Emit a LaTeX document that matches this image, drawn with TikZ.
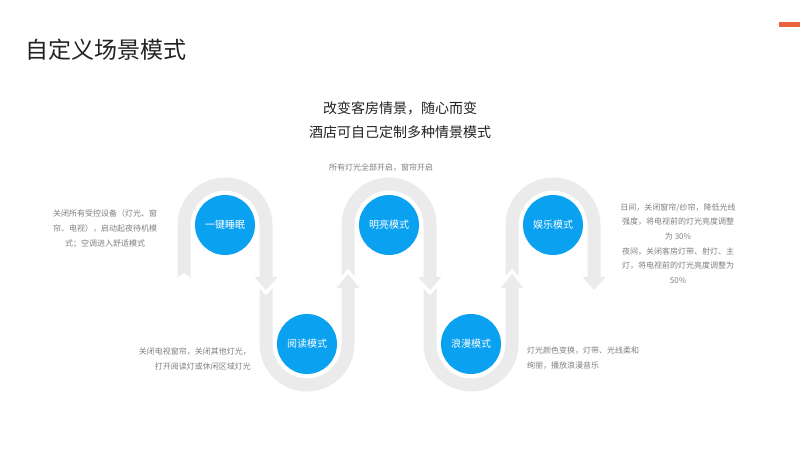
\documentclass[tikz,border=0pt]{standalone}
\usepackage{fontspec}
\setmainfont{Noto Sans CJK SC}
\definecolor{bandgray}{HTML}{EBEBEB}
\definecolor{circblue}{HTML}{0AA1F0}
\definecolor{txtgray}{HTML}{808080}
\definecolor{darktxt}{HTML}{222222}
\definecolor{markred}{HTML}{E9643E}
\begin{document}
\begin{tikzpicture}[x=1pt,y=1pt,
  band/.style={draw=bandgray,line width=13pt,line cap=butt,line join=round},
  headtri/.style={fill=bandgray,draw=none},
  gapline/.style={draw=white,line width=3.5pt,line join=miter},
  modecircle/.style={circle,fill=circblue,minimum size=60pt,inner sep=0pt,text=white,font=\fontsize{10}{12}\selectfont},
  smalltxt/.style={text=txtgray,font=\fontsize{8}{15}\selectfont,inner sep=0pt}
]
\useasboundingbox (0,0) rectangle (800,450);
\fill[white] (0,0) rectangle (800,450);

% snake band
\draw[band] (184,172) -- (184,225) arc[start angle=180,end angle=0,radius=41]
  -- (266,106) arc[start angle=180,end angle=360,radius=41]
  -- (348,225) arc[start angle=180,end angle=0,radius=41]
  -- (430,106) arc[start angle=180,end angle=360,radius=41]
  -- (512,225) arc[start angle=180,end angle=0,radius=41]
  -- (594,173);

% start tail notch
\fill[white] (176,171) -- (184,177) -- (192,171) -- (192,168) -- (176,168) -- cycle;

% gaps below/above arrowheads
\draw[gapline] (254,170.5) -- (266,157.5) -- (278,170.5);
\draw[gapline] (418,170.5) -- (430,157.5) -- (442,170.5);
\draw[gapline] (336,164.5) -- (348,178.5) -- (360,164.5);
\draw[gapline] (500,164.5) -- (512,178.5) -- (524,164.5);

% arrowheads
\fill[headtri] (254.5,173) -- (277.5,173) -- (266,160) -- cycle;
\fill[headtri] (418.5,173) -- (441.5,173) -- (430,160) -- cycle;
\fill[headtri] (582.5,173) -- (605.5,173) -- (594,160) -- cycle;
\fill[headtri] (336.5,162) -- (359.5,162) -- (348,176) -- cycle;
\fill[headtri] (500.5,162) -- (523.5,162) -- (512,176) -- cycle;

% circles
\node[modecircle] (m1) at (225,225) {一键睡眠};
\node[modecircle] (m2) at (307,106) {阅读模式};
\node[modecircle] (m3) at (389,225) {明亮模式};
\node[modecircle] (m4) at (471,106) {浪漫模式};
\node[modecircle] (m5) at (553,225) {娱乐模式};

% title and subtitle
\node[anchor=west,text=darktxt,font=\fontsize{23}{26}\selectfont,inner sep=0pt] (title) at (25,400) {自定义场景模式};
\node[text=darktxt,font=\fontsize{14}{24}\selectfont,align=center,inner sep=0pt] (sub) at (400,330) {改变客房情景，随心而变\\酒店可自己定制多种情景模式};

% descriptions
\node[smalltxt] (d3) at (381,282) {所有灯光全部开启，窗帘开启};
\node[smalltxt,align=center] (d1) at (105,221) {关闭所有受控设备（灯光、窗\\帘、电视），启动起夜待机模\\式；空调进入舒适模式};
\node[smalltxt,align=right,anchor=east] (d2) at (251,91.5) {关闭电视窗帘，关闭其他灯光，\\打开阅读灯或休闲区域灯光};
\node[smalltxt,align=left,anchor=west] (d4) at (527,91.5) {灯光颜色变换，灯带、光线柔和\\绚丽，播放浪漫音乐};
\node[smalltxt,align=center,font=\fontsize{8}{14.6}\selectfont] (d5) at (678,206.5) {日间，关闭窗帘/纱帘，降低光线\\强度，将电视前的灯光亮度调整\\为 30\%\\夜间，关闭客房灯带、射灯、主\\灯，将电视前的灯光亮度调整为\\50\%};

% top-right mark
\fill[markred] (779,428) rectangle (800,423);
\end{tikzpicture}
\end{document}
